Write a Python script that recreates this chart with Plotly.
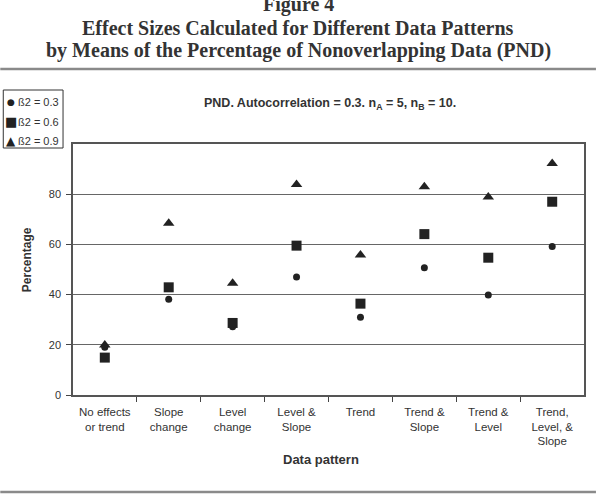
import plotly.graph_objects as go

categories = ["No effects<br>or trend", "Slope<br>change", "Level<br>change", "Level &<br>Slope",
              "Trend", "Trend &<br>Slope", "Trend &<br>Level", "Trend,<br>Level, &<br>Slope"]
b03 = [19.0, 38.1, 27.2, 47.0, 31.0, 50.7, 39.8, 59.2]
b06 = [14.9, 42.9, 28.7, 59.5, 36.4, 64.1, 54.7, 77.0]
b09 = [19.9, 68.4, 44.5, 83.9, 55.8, 83.0, 78.9, 92.2]
series_names = ["ß2 = 0.3", "ß2 = 0.6", "ß2 = 0.9"]
legend_glyphs = ["●", "■", "▲"]
yticks = [0, 20, 40, 60, 80]

W, H = 598, 494
L, R, T, B = 73, 12, 144, 99
pw, ph = W - L - R, H - T - B

def px(x):
    return (x - L) / pw

def py(y):
    return (H - B - y) / ph

ink = "#222222"
txt = "#333333"
fig = go.Figure()
fig.add_trace(go.Scatter(x=categories, y=b03, mode="markers", name=series_names[0],
                         marker=dict(symbol="circle", size=7, color=ink)))
fig.add_trace(go.Scatter(x=categories, y=b06, mode="markers", name=series_names[1],
                         marker=dict(symbol="square", size=10, color=ink)))
fig.add_trace(go.Scatter(x=categories, y=b09, mode="markers", name=series_names[2],
                         marker=dict(symbol="triangle-up", size=10, color=ink)))

fig.update_layout(
    width=W, height=H,
    margin=dict(l=L, r=R, t=T, b=B),
    paper_bgcolor="white", plot_bgcolor="white",
    font=dict(family="Liberation Sans, Arial", size=10, color=txt),
    showlegend=False,
    xaxis=dict(type="category", tickson="boundaries", ticks="outside", ticklen=5,
               tickcolor="#444444", showline=True, linecolor="#555555", linewidth=1.5,
               mirror=True, showgrid=False, ticklabelstandoff=5,
               tickfont=dict(size=11.5, color=txt)),
    yaxis=dict(range=[0, 100], tickvals=yticks, showgrid=True, gridcolor="#666666",
               gridwidth=1.2, showline=True, linecolor="#555555", linewidth=1.5, mirror=True,
               ticks="outside", ticklen=5, tickcolor="#444444", ticklabelstandoff=3,
               tickfont=dict(size=11, color=txt), zeroline=False),
)

serif = "Liberation Serif, Times New Roman"
sans = "Liberation Sans, Arial"
annos = [
    ("Figure 4", 299, 4, serif, 20),
    ("Effect Sizes Calculated for Different Data Patterns", 299, 28, serif, 20),
    ("by Means of the Percentage of Nonoverlapping Data (PND)", 299, 50, serif, 20),
    ("PND. Autocorrelation = 0.3. n<sub>A</sub> = 5, n<sub>B</sub> = 10.", 331, 104, sans, 12.5),
    ("Data pattern", 322, 459, sans, 13),
]
for text, x, y, fam, size in annos:
    fig.add_annotation(text=f"<b>{text}</b>", x=px(x), y=py(y),
                       xref="paper", yref="paper", showarrow=False,
                       xanchor="center", yanchor="middle",
                       font=dict(family=fam, size=size, color=txt))
fig.add_annotation(text="<b>Percentage</b>", x=px(27), y=py(260), xref="paper", yref="paper",
                   showarrow=False, textangle=-90, xanchor="center", yanchor="middle",
                   font=dict(family=sans, size=12, color=txt))

# legend box
fig.add_shape(type="rect", xref="paper", yref="paper", x0=px(3), x1=px(63), y0=py(90), y1=py(148),
              line=dict(color="#333333", width=1), fillcolor="white")
legend_y = [102, 121.5, 141]
legend_sizes = [9, 13, 12]
for g, name, yy, gs in zip(legend_glyphs, series_names, legend_y, legend_sizes):
    fig.add_annotation(text=g, x=px(10.5), y=py(yy), xref="paper", yref="paper", showarrow=False,
                       xanchor="center", yanchor="middle", font=dict(family="DejaVu Sans", size=gs, color=ink))
    fig.add_annotation(text=name, x=px(15.5), y=py(yy), xref="paper", yref="paper", showarrow=False,
                       xanchor="left", yanchor="middle", font=dict(family=sans, size=11, color=txt))

for yy in (69, 492):
    fig.add_shape(type="line", xref="paper", yref="paper", x0=px(0), x1=px(598),
                  y0=py(yy), y1=py(yy), line=dict(color="#8a8a8a", width=2.5))

fig.write_html("out.html")
